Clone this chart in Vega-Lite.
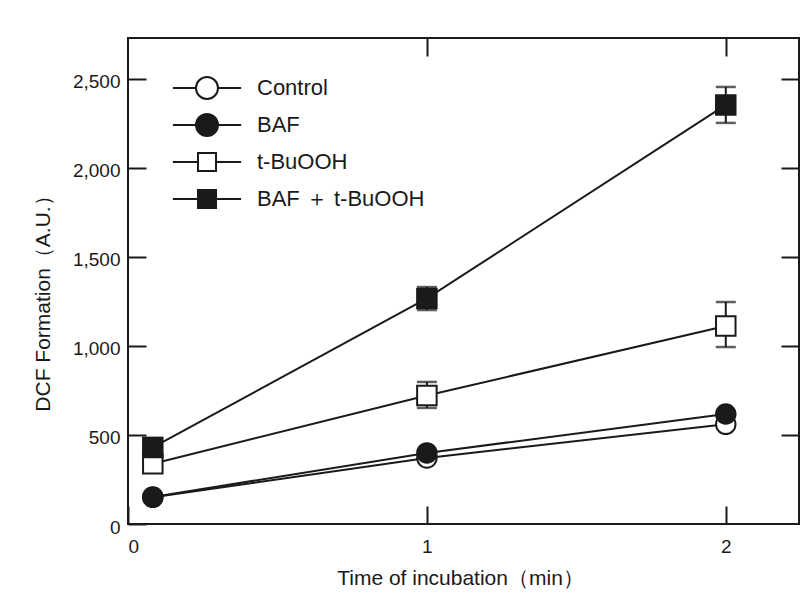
{
  "$schema": "https://vega.github.io/schema/vega-lite/v6.json",
  "width": 671,
  "height": 486,
  "autosize": {"type": "none"},
  "padding": {"left": 128, "top": 38, "right": 13, "bottom": 89},
  "background": "white",
  "config": {
    "font": "Liberation Sans",
    "view": {"stroke": "#1a1a1a", "strokeWidth": 2},
    "axis": {"grid": false, "domain": false, "tickColor": "#1a1a1a", "tickWidth": 2, "labelColor": "#1a1a1a", "titleColor": "#1a1a1a", "labelFont": "Liberation Sans", "titleFont": "Liberation Sans", "titleFontWeight": "normal"},
    "legend": {"labelFontSize": 22, "labelColor": "#1a1a1a", "labelLimit": 400, "symbolSize": 484, "symbolStrokeWidth": 2, "symbolStrokeColor": "#1a1a1a", "rowPadding": 7, "labelOffset": 38}
  },
  "data": {
    "values": [
      {"series": "Control", "t": 0.083, "y": 150},
      {"series": "Control", "t": 1, "y": 371},
      {"series": "Control", "t": 2, "y": 560},
      {"series": "t-BuOOH", "t": 0.083, "y": 338},
      {"series": "t-BuOOH", "t": 1, "y": 722, "lo": 652, "hi": 798},
      {"series": "t-BuOOH", "t": 2, "y": 1112, "lo": 994, "hi": 1247},
      {"series": "BAF", "t": 0.083, "y": 152},
      {"series": "BAF", "t": 1, "y": 399},
      {"series": "BAF", "t": 2, "y": 618},
      {"series": "BAF + t-BuOOH", "t": 0.083, "y": 430, "lo": 371, "hi": 483},
      {"series": "BAF + t-BuOOH", "t": 1, "y": 1267, "lo": 1202, "hi": 1331},
      {"series": "BAF + t-BuOOH", "t": 2, "y": 2354, "lo": 2253, "hi": 2455}
    ]
  },
  "resolve": {"axis": {"x": "independent", "y": "independent"}},
  "layer": [
    {
      "mark": {"type": "line", "color": "#1a1a1a", "strokeWidth": 2},
      "encoding": {
        "x": {"field": "t", "type": "quantitative", "scale": {"domain": [0, 2.245], "nice": false, "zero": false},
          "axis": {"orient": "bottom", "values": [0, 1, 2], "format": "d", "tickSize": -18, "labelPadding": 31, "labelFontSize": 19, "title": "Time of incubation（min）", "titleFontSize": 21, "titlePadding": 11, "titleX": 332}},
        "y": {"field": "y", "type": "quantitative", "scale": {"domain": [0, 2730], "nice": false},
          "axis": {"orient": "left", "values": [0, 500, 1000, 1500, 2000, 2500], "format": ",d", "tickSize": -18, "labelPadding": 26, "labelOffset": 3, "labelFontSize": 19, "title": "DCF Formation（A.U.）", "titleFontSize": 21, "titlePadding": 19, "titleY": 260}},
        "detail": {"field": "series"}
      }
    },
    {
      "mark": {"type": "rule", "color": "#1a1a1a", "strokeWidth": 2},
      "encoding": {
        "x": {"field": "t", "type": "quantitative", "axis": null},
        "y": {"field": "lo", "type": "quantitative", "axis": null},
        "y2": {"field": "hi"}
      }
    },
    {
      "mark": {"type": "tick", "orient": "horizontal", "color": "#1a1a1a", "size": 20, "thickness": 2.5},
      "encoding": {
        "x": {"field": "t", "type": "quantitative", "axis": null},
        "y": {"field": "lo", "type": "quantitative", "axis": null}
      }
    },
    {
      "mark": {"type": "tick", "orient": "horizontal", "color": "#1a1a1a", "size": 20, "thickness": 2.5},
      "encoding": {
        "x": {"field": "t", "type": "quantitative", "axis": null},
        "y": {"field": "hi", "type": "quantitative", "axis": null}
      }
    },
    {
      "mark": {"type": "point", "stroke": "#1a1a1a", "strokeWidth": 2, "fillOpacity": 1, "size": 380},
      "encoding": {
        "x": {"field": "t", "type": "quantitative",
          "axis": {"orient": "top", "values": [1, 2], "labels": false, "tickSize": -18, "title": null}},
        "y": {"field": "y", "type": "quantitative",
          "axis": {"orient": "right", "values": [500, 1000, 1500, 2000, 2500], "labels": false, "tickSize": -18, "title": null}},
        "shape": {"field": "series", "type": "nominal",
          "scale": {"domain": ["BAF", "Control", "BAF + t-BuOOH", "t-BuOOH"], "range": ["circle", "circle", "square", "square"]},
          "legend": null},
        "fill": {"field": "series", "type": "nominal",
          "scale": {"domain": ["Control", "BAF", "t-BuOOH", "BAF + t-BuOOH"], "range": ["white", "#1a1a1a", "white", "#1a1a1a"]},
          "legend": {"orient": "none", "legendX": 67, "legendY": 38, "title": null, "values": ["Control", "BAF"],
            "symbolType": "M-3.1,0H-1M1,0H3.1M-1,0A1,1 0 1,1 1,0A1,1 0 1,1 -1,0Z"}},
        "stroke": {"field": "series", "type": "nominal",
          "scale": {"domain": ["t-BuOOH", "BAF + t-BuOOH", "Control", "BAF"], "range": ["#1a1a1a", "#1a1a1a", "#1a1a1a", "#1a1a1a"]},
          "legend": {"orient": "none", "legendX": 67, "legendY": 112, "title": null, "values": ["t-BuOOH"],
            "symbolType": "M-3.1,0H-0.82M0.82,0H3.1M-0.82,-0.82H0.82V0.82H-0.82Z",
            "symbolFillColor": "white"}},
        "opacity": {"field": "series", "type": "nominal",
          "scale": {"domain": ["BAF + t-BuOOH", "t-BuOOH", "BAF", "Control"], "range": [1, 1, 1, 1]},
          "legend": {"orient": "none", "legendX": 67, "legendY": 149, "title": null, "values": ["BAF + t-BuOOH"],
            "symbolType": "M-3.1,0H-0.82M0.82,0H3.1M-0.82,-0.82H0.82V0.82H-0.82Z",
            "symbolFillColor": "#1a1a1a",
            "labelExpr": "replace(datum.label, ' + ', ' ＋ ')"}}
      }
    }
  ]
}
